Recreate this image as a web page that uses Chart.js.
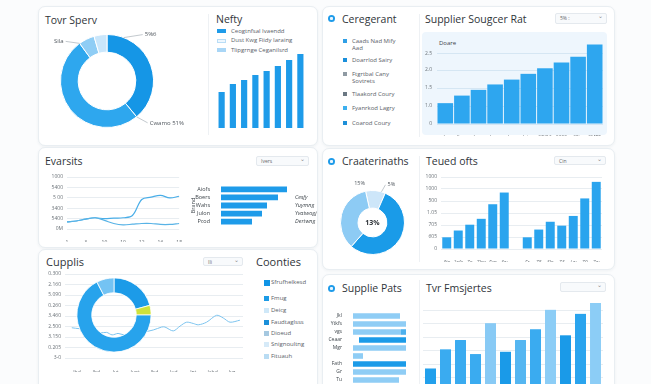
<!DOCTYPE html>
<html><head><meta charset="utf-8">
<script src="https://cdn.jsdelivr.net/npm/chart.js@4.4.1/dist/chart.umd.min.js"></script>
<style>
html,body{margin:0;padding:0}
body{width:651px;height:384px;overflow:hidden;position:relative;background:#fbfcfd;font-family:"Open Sans",sans-serif;color:#2e3338}
.card{position:absolute;background:#fff;border:1px solid #e9eef2;border-radius:7px;box-shadow:0 1px 3px rgba(40,60,80,.06)}
.sep{position:absolute;width:1px;background:#eef1f4}
.tt{position:absolute;font-size:10.5px;line-height:12px;white-space:nowrap;color:#30353a;transform:translateY(-50%)}
.sm{position:absolute;font-size:6px;line-height:7px;color:#5a6168;white-space:nowrap}
.sw{position:absolute}
.dd{position:absolute;border:1px solid #e4e9ee;background:#f8fafc;border-radius:2px;font-size:5px;line-height:8px;color:#666;box-sizing:border-box;padding-left:4px}
.dd:after{content:"\2304";position:absolute;right:3px;top:-2px;font-size:6px;color:#888}
.ic{position:absolute;width:7px;height:7px;border-radius:50%;background:radial-gradient(circle,#e8f5fe 0 1.3px,#1e9be9 1.8px)}
.panel{position:absolute;background:#eef6fd;border-radius:4px}
canvas{position:absolute}
</style></head>
<body>
<!-- cards -->
<div class="card" style="left:38px;top:6px;width:278px;height:138px"></div>
<div class="card" style="left:322px;top:6px;width:291px;height:138px"></div>
<div class="card" style="left:38px;top:147px;width:278px;height:99px"></div>
<div class="card" style="left:322px;top:148px;width:291px;height:120px"></div>
<div class="card" style="left:38px;top:249px;width:278px;height:150px"></div>
<div class="card" style="left:322px;top:274px;width:291px;height:130px"></div>

<div class="sep" style="left:208px;top:14px;height:121px"></div>
<div class="sep" style="left:419px;top:14px;height:123px"></div>
<div class="sep" style="left:419px;top:156px;height:106px"></div>
<div class="sep" style="left:419px;top:280px;height:104px"></div>

<!-- titles -->
<div class="tt" style="left:45px;top:20px">Tovr Sperv</div>
<div class="tt" style="left:216px;top:19px">Nefty</div>
<div class="ic" style="left:328px;top:15px"></div>
<div class="tt" style="left:342px;top:19px">Ceregerant</div>
<div class="tt" style="left:425px;top:19px">Supplier Sougcer Rat</div>
<div class="dd" style="left:555px;top:13px;width:52px;height:11px">5% :</div>
<div class="tt" style="left:45px;top:161px">Evarsits</div>
<div class="dd" style="left:256px;top:156px;width:53px;height:10px">Ivers</div>
<div class="ic" style="left:328px;top:158px"></div>
<div class="tt" style="left:342px;top:161px">Craaterinaths</div>
<div class="tt" style="left:426px;top:161px">Teued ofts</div>
<div class="dd" style="left:554px;top:156px;width:52px;height:9px">Cin</div>
<div class="tt" style="left:46px;top:262px;font-size:11px">Cupplis</div>
<div class="dd" style="left:203px;top:257px;width:40px;height:9px">Ili</div>
<div class="tt" style="left:256px;top:262px;font-size:11px">Coonties</div>
<div class="ic" style="left:328px;top:285px"></div>
<div class="tt" style="left:342px;top:288px">Supplie Pats</div>
<div class="tt" style="left:426px;top:288px">Tvr Fmsjertes</div>
<div class="dd" style="left:560px;top:282px;width:46px;height:10px"></div>

<!-- legends -->
<div id="leg1"></div>
<div id="leg2"></div>
<div id="leg5"></div>

<div class="panel" style="left:422px;top:32px;width:185px;height:103px"></div>
<div class="sm" style="left:439px;top:40px;color:#3d444a">Doare</div>

<canvas id="cSpend" width="170" height="104" style="left:22px;top:29px"></canvas>
<canvas id="cNefty" width="90" height="80" style="left:216px;top:48px"></canvas>
<canvas id="cSource" width="185" height="100" style="left:422px;top:36px"></canvas>
<canvas id="cEv" width="145" height="72" style="left:40px;top:170px"></canvas>
<canvas id="cBrand" width="132" height="53" style="left:188px;top:179px"></canvas>
<canvas id="cChar" width="101" height="101" style="left:322px;top:172px"></canvas>
<canvas id="cTeued" width="182" height="92" style="left:423px;top:170px"></canvas>
<canvas id="cCup" width="206" height="105" style="left:40px;top:267px"></canvas>
<canvas id="cMix" width="100" height="100" style="left:64px;top:265px"></canvas>
<canvas id="cParts" width="86" height="84" style="left:322px;top:306px"></canvas>
<canvas id="cFreq" width="180" height="89" style="left:423px;top:302px"></canvas>

<script>
// ---- data ----
const spendLabels = ['Direct', 'Cwamo', 'Sila', 'Other'];
const spendValues = [39, 51, 5.5, 4.5];

const neftyLabels = ['1', '2', '3', '4', '5', '6', '7', '8'];
const neftyValues = [36, 44, 48, 53, 57, 62, 68, 74];
const neftyLegend = ['Ceogtnfsal Ivaendd', 'Dust Kwg Fiidy Iaraing', 'Tlipgrnge Ceganilsrd'];

const catLegend = [['Caads Nad Mify', 'Aad'], ['Doarrlod Sairy'], ['Ftgrtbal Cany', 'Sovtrets'], ['Tlaakord Coury'], ['Fyanrkod Lagry'], ['Coarod Coury']];

const sourceLabels = ['Jr', 'Jkpa', 'Jxno', 'Jwre', 'Jne', 'Jujvo', '2DO3', '2020', '35tx', '2MT5'];
const sourceValues = [1.16, 1.58, 1.9, 2.2, 2.47, 2.79, 3.1, 3.42, 3.74, 4.42];
const sourceTicks = [0, 1, 2, 3, 3.9];
const sourceTickLabels = ['0', '1.0', '1.5', '2.0', '2.5'];

const evCats = ['1', '', '3', '', '10', '', '10', '', '12', '', '16', '', '18'];
const evFlat = [0.68, 0.77, 0.95, 1.08, 0.83, 0.53, 0.4, 0.46, 0.53, 0.53, 0.44, 0.44, 0.53];
const evRise = [0.68, 0.77, 0.95, 1.08, 0.99, 1.05, 1.08, 1.3, 2.84, 3.06, 3.24, 2.99, 3.15];
const evTickLabels = ['0M', '5400', '3400', '5 00', '5400', '1000'];

const brandLabels = ['Aiofs', 'Boers', 'Wahs', 'Julon', 'Pcod'];
const brandNotes = ['', 'Cesfy', 'Yuymng', 'Yvatwogj', 'Dertwng'];
const brandValues = [66, 57, 46, 41, 31];

const charLabels = ['Top', 'Main', 'Rest'];
const charValues = [10, 55, 35];

const teuedLabels = ['3to', '2ofe', 'Zo', '7kw', 'Fxn', '3w', '', 'Fr', 'Z5', '3lo', 'Z3', 'Lw', 'Z0', '7w'];
const teuedValues = [195, 308, 405, 503, 746, 941, null, 195, 324, 454, 389, 551, 843, 1119];
const teuedTickLabels = ['0', '605', '705', '1.05', '500', '1000', '1000'];

const cupX = [-0.27, 0.57, 1.19, 1.53, 1.81, 2.12, 2.43, 2.99, 3.94, 4.37, 4.54, 4.97, 5.32, 5.66, 6.0, 6.26, 6.69, 7.21, 7.55, 7.9, 8.41];
const cupY = [2.88, 2.67, 2.39, 2.44, 2.2, 2.34, 2.2, 2.3, 2.67, 2.95, 2.95, 2.58, 3.04, 3.41, 3.29, 3.16, 3.41, 4.07, 3.81, 3.41, 3.6];
const cupXLabels = ['Jbd', 'Ibd', 'Ivt', 'Jupt', 'Jbd', 'Jud', 'Jnt', 'Jabd', 'Jvg'];
const cupTickLabels = ['3-0', '0.205', '3.150', '2.500', '3.460', '0.260', '5.090', '2.160', '0.300'];

const mixLabels = ['North', 'Lime', 'West', 'East'];
const mixValues = [20.8, 4.2, 67.4, 7.6];

const countryNames = ['Sfrufhelkesd', 'Fmug', 'Deicg', 'Faudtaglsss', 'Dioeud', 'Snignoultng', 'Fituauh'];

const partLabels = ['Jkl', 'Ytkfs', 'vgs', 'Ceaar', 'Mgr', '', 'Fath', 'Gr', 'Tu'];
const partLight = [[0, 47], [0, 53], [0, 48], null, [0, 53], [0, 10], null, [0, 53], [0, 46]];
const partMid = [null, null, [48, 53], null, null, null, null, null, null];
const partDark = [null, null, null, [6, 53], null, null, [0, 53], null, null];

const freqLabels = ['a1', 'a2', 'a3', 'a4', 'a5', 'b1', 'b2', 'b3', 'b4', 'c1', 'c2', 'c3'];
const freqValues = [1.67, 3.09, 3.78, 2.74, 5.03, 2.91, 3.78, 4.58, 6.02, 4.13, 5.72, 6.52];

// ---- styles ----
const BLUE = '#1e9be9';
const freqColors = ['#22a0ec', '#3aabf0', '#3aabf0', '#3aabf0', '#88caf5', '#1a9ae8', '#55b6f1', '#3aabf0', '#8ccdf6', '#1a9ae8', '#2aa4ee', '#8ccdf6'];
const GRID = '#e8edf1';

Chart.defaults.font.family = '"Open Sans", sans-serif';
Chart.defaults.font.size = 6;
Chart.defaults.color = '#6b7278';
Chart.defaults.animation = false;
Chart.defaults.responsive = false;
Chart.defaults.plugins.legend.display = false;
Chart.defaults.plugins.tooltip.enabled = false;

// legends as html
function addLegend(hostId, items) {
  const host = document.getElementById(hostId);
  items.forEach(it => {
    const s = document.createElement('div');
    s.className = 'sw';
    Object.assign(s.style, it.sw);
    host.appendChild(s);
    const t = document.createElement('div');
    t.className = 'sm';
    t.style.left = it.tx + 'px';
    t.style.top = it.ty + 'px';
    t.innerHTML = it.text;
    host.appendChild(t);
  });
}
const leg1Colors = [['#1e9be9', 'none'], ['#eef7fe', '1px solid #b9ddf6'], ['#a9d6f6', 'none']];
addLegend('leg1', neftyLegend.map((txt, i) => ({
  sw: { left: '217px', top: (29 + i * 9.5) + 'px', width: '9px', height: '4px', background: leg1Colors[i][0], border: leg1Colors[i][1], boxSizing: 'border-box' },
  tx: 231, ty: 27.5 + i * 9.5, text: txt
})));
const leg2Colors = ['#2f9fe6', '#1a8fdb', '#8f9aa3', '#6b7883', '#3db0ef', '#1d8fd8'];
const leg2Y = [41, 60, 74, 94, 108, 123];
addLegend('leg2', catLegend.map((lines, i) => ({
  sw: { left: '343px', top: (leg2Y[i] - 2) + 'px', width: '4px', height: '4px', background: leg2Colors[i] },
  tx: 352, ty: leg2Y[i] - 3.5, text: lines.join('<br>')
})));
const leg5Colors = ['#0f94e6', '#1c9be6', '#cfe8f8', '#1a8fd9', '#a5c8e0', '#d6eaf8', '#b9dcf3'];
const leg5Y = [282.7, 298.3, 310, 322, 333.3, 344.3, 356];
addLegend('leg5', countryNames.map((txt, i) => ({
  sw: { left: '264px', top: (leg5Y[i] - 2.5) + 'px', width: i === 0 ? '6px' : '5px', height: i === 0 ? '6px' : '5px', background: leg5Colors[i] },
  tx: 271, ty: leg5Y[i] - 3.5, text: txt
})));

// callout labels on doughnuts
const callouts = {
  id: 'callouts',
  afterDatasetsDraw(chart, args, opts) {
    const { ctx } = chart;
    const meta = chart.getDatasetMeta(0);
    ctx.save();
    ctx.strokeStyle = '#9aa4ad';
    ctx.lineWidth = 0.6;
    ctx.fillStyle = '#50575e';
    ctx.textBaseline = 'middle';
    (opts.items || []).forEach(it => {
      const arc = meta.data[it.index];
      const a = arc.startAngle + (arc.endAngle - arc.startAngle) * it.at;
      const x0 = arc.x + Math.cos(a) * arc.outerRadius;
      const y0 = arc.y + Math.sin(a) * arc.outerRadius;
      const x1 = x0 + it.dx, y1 = y0 + it.dy;
      if (it.line !== false) {
        ctx.beginPath(); ctx.moveTo(x0, y0); ctx.lineTo(x1, y1); ctx.stroke();
      }
      ctx.font = (it.size || 6) + 'px "Open Sans"';
      ctx.textAlign = it.align || (it.dx < 0 ? 'right' : 'left');
      const off = it.line === false ? 0 : (it.dx < 0 ? -2 : 2);
      ctx.fillText(it.text, x1 + off, y1);
    });
    if (opts.center) {
      const arc = meta.data[0];
      ctx.font = 'bold 7px "Open Sans"';
      ctx.fillStyle = '#2e3338';
      ctx.textAlign = 'center';
      ctx.fillText(opts.center, arc.x, arc.y);
    }
    ctx.restore();
  }
};

function ctx(id) { return document.getElementById(id).getContext('2d'); }
const fixTicks = vals => scale => { scale.ticks = vals.map(v => ({ value: v })); };

// card 1: spend doughnut
new Chart(ctx('cSpend'), {
  type: 'doughnut',
  data: { labels: spendLabels, datasets: [{ data: spendValues, backgroundColor: ['#1596e6', '#2ea7ee', '#8fcdf5', '#c9e6fb'], borderColor: '#fff', borderWidth: 1 }] },
  options: {
    cutout: '62%',
    layout: { padding: 5 },
    plugins: {
      callouts: {
        items: [
          { index: 0, at: 0.15, dx: 19, dy: -3, text: '5%6' },
          { index: 2, at: 0, dx: -14, dy: -2, text: 'Sila' },
          { index: 1, at: 0, dx: 11, dy: 6, text: 'Cwamo 51%' }
        ]
      }
    }
  },
  plugins: [callouts]
});

// card 1: nefty bars
new Chart(ctx('cNefty'), {
  type: 'bar',
  data: { labels: neftyLabels, datasets: [{ data: neftyValues, backgroundColor: BLUE, barPercentage: 0.55, categoryPercentage: 1 }] },
  options: { scales: { x: { display: false }, y: { display: false, min: 0, max: 80 } } }
});

// card 2: supplier source bars
new Chart(ctx('cSource'), {
  type: 'bar',
  data: { labels: sourceLabels, datasets: [{ data: sourceValues, backgroundColor: '#2ea6ef', barPercentage: 0.94, categoryPercentage: 1 }] },
  options: {
    layout: { padding: { top: 4, right: 4 } },
    scales: {
      x: { grid: { display: false }, border: { display: false }, ticks: { autoSkip: false, maxRotation: 0, padding: 3, font: { size: 5 }, color: '#6b7278' }, afterFit(s) { s.height = 12; } },
      y: {
        min: 0, max: 4.45,
        afterBuildTicks: fixTicks(sourceTicks),
        grid: { color: '#d5e6f3', drawTicks: false }, border: { display: false },
        ticks: { padding: 5, font: { size: 5 }, callback: (v, i) => sourceTickLabels[i] },
        afterFit(s) { s.width = 15; }
      }
    }
  }
});

// card 3: line chart
new Chart(ctx('cEv'), {
  type: 'line',
  data: {
    labels: evCats,
    datasets: [
      { data: evFlat, borderColor: '#58b3e6', borderWidth: 1.2, pointRadius: 0, tension: 0.35 },
      { data: evRise, borderColor: '#4aaee8', borderWidth: 1.2, pointRadius: 0, tension: 0.35 }
    ]
  },
  options: {
    layout: { padding: { top: 5, right: 3 } },
    scales: {
      x: { grid: { display: false }, border: { display: false }, ticks: { autoSkip: false, maxRotation: 0, padding: 3, font: { size: 5 } }, afterFit(s) { s.height = 13; } },
      y: {
        min: 0, max: 5, ticks: { stepSize: 1, padding: 4, font: { size: 5 }, callback: (v, i) => evTickLabels[i] },
        grid: { color: GRID, drawTicks: false }, border: { display: false },
        afterFit(s) { s.width = 27; }
      }
    }
  }
});

// card 3: brand horizontal bars
new Chart(ctx('cBrand'), {
  type: 'bar',
  data: { labels: brandLabels, datasets: [{ data: brandValues, backgroundColor: BLUE, barPercentage: 0.72, categoryPercentage: 1 }] },
  options: {
    indexAxis: 'y',
    scales: {
      x: { display: false, min: 0, max: 66 },
      y: {
        grid: { display: false }, border: { display: false },
        ticks: { autoSkip: false, padding: 3, color: '#3d444a', font: { size: 5.5 } },
        title: { display: true, text: 'Brand', padding: { top: 2, bottom: 0 }, color: '#3d444a', font: { size: 5.5 } },
        afterFit(s) { s.width = 33; }
      },
      y2: {
        type: 'category', labels: brandNotes, position: 'right',
        grid: { display: false }, border: { display: false },
        ticks: { autoSkip: false, padding: 0, color: '#3d444a', font: { size: 5.5, style: 'italic' } },
        afterFit(s) { s.width = 33; }
      }
    }
  }
});

// card 4: doughnut
new Chart(ctx('cChar'), {
  type: 'doughnut',
  data: { labels: charLabels, datasets: [{ data: charValues, backgroundColor: ['#cde6f9', '#1a9be8', '#8dcbf4'], borderColor: '#fff', borderWidth: 1 }] },
  options: {
    rotation: -12.5,
    cutout: '45%',
    layout: { padding: 18 },
    plugins: {
      callouts: {
        center: '13%',
        items: [
          { index: 0, at: 0.8, dx: 4, dy: -7, text: '5%', size: 5.5 },
          { index: 2, at: 1, dx: -6, dy: -8, text: '15%', line: false, align: 'center', size: 5.5 }
        ]
      }
    }
  },
  plugins: [callouts]
});

// card 4: teued bars
new Chart(ctx('cTeued'), {
  type: 'bar',
  data: { labels: teuedLabels, datasets: [{ data: teuedValues, backgroundColor: '#2aa4ee', barPercentage: 0.78, categoryPercentage: 1 }] },
  options: {
    layout: { padding: { top: 5, right: 3 } },
    scales: {
      x: { grid: { display: false }, border: { display: false }, ticks: { autoSkip: false, maxRotation: 0, padding: 3, font: { size: 5, style: 'italic' } }, afterFit(s) { s.height = 13; } },
      y: {
        min: 0, max: 1200, ticks: { stepSize: 200, padding: 4, font: { size: 5 }, callback: (v, i) => teuedTickLabels[i] },
        grid: { color: GRID, drawTicks: false }, border: { display: false },
        afterFit(s) { s.width = 18; }
      }
    }
  }
});

// card 5: line chart under the donut
new Chart(ctx('cCup'), {
  type: 'line',
  data: { datasets: [{ data: cupX.map((x, i) => ({ x, y: cupY[i] })), borderColor: '#7cc4ef', borderWidth: 1, pointRadius: 0, tension: 0.3 }] },
  options: {
    layout: { padding: { top: 4.7, right: 3 } },
    scales: {
      x: {
        type: 'linear', min: -0.62, max: 8.57,
        afterBuildTicks: fixTicks([0, 1, 2, 3, 4, 5, 6, 7, 8]),
        grid: { display: false }, border: { display: false },
        ticks: { padding: 4, font: { size: 5 }, callback: (v, i) => cupXLabels[i] },
        afterFit(s) { s.height = 14; }
      },
      y: {
        min: 0, max: 8, ticks: { stepSize: 1, padding: 4, font: { size: 5 }, callback: (v, i) => cupTickLabels[i] },
        grid: { color: GRID, drawTicks: false }, border: { display: false },
        afterFit(s) { s.width = 25; }
      }
    }
  }
});

// card 5: donut overlay
new Chart(ctx('cMix'), {
  type: 'doughnut',
  data: { labels: mixLabels, datasets: [{ data: mixValues, backgroundColor: ['#1c9be8', '#cfe23c', '#27a3ec', '#74c3f3'], borderColor: '#fff', borderWidth: 0.8 }] },
  options: { cutout: '60%', layout: { padding: 12.5 } }
});

// card 6: supplier parts floating bars
new Chart(ctx('cParts'), {
  type: 'bar',
  data: {
    labels: partLabels,
    datasets: [
      { data: partLight, backgroundColor: '#8fcdf5', grouped: false, barPercentage: 0.7, categoryPercentage: 1 },
      { data: partMid, backgroundColor: '#4db1ee', grouped: false, barPercentage: 0.7, categoryPercentage: 1 },
      { data: partDark, backgroundColor: '#1b9be8', grouped: false, barPercentage: 0.7, categoryPercentage: 1 }
    ]
  },
  options: {
    indexAxis: 'y',
    layout: { padding: { right: 2 } },
    scales: {
      x: { display: false, min: 0, max: 53 },
      y: { grid: { display: false }, border: { display: false }, ticks: { autoSkip: false, padding: 3, color: '#3d444a', font: { size: 5 } }, afterFit(s) { s.width = 31; } }
    }
  }
});

// card 6: grouped frequency bars
new Chart(ctx('cFreq'), {
  type: 'bar',
  data: { labels: freqLabels, datasets: [{ data: freqValues, backgroundColor: freqColors, barPercentage: 0.73, categoryPercentage: 1 }] },
  options: {
    scales: {
      x: { display: false },
      y: {
        min: 0, max: 6.6,
        afterBuildTicks: fixTicks([0, 1, 2, 3, 4, 5, 6]),
        ticks: { display: false }, grid: { color: GRID, drawTicks: false }, border: { display: false },
        afterFit(s) { s.width = 0; }
      }
    }
  }
});
</script>
</body></html>
